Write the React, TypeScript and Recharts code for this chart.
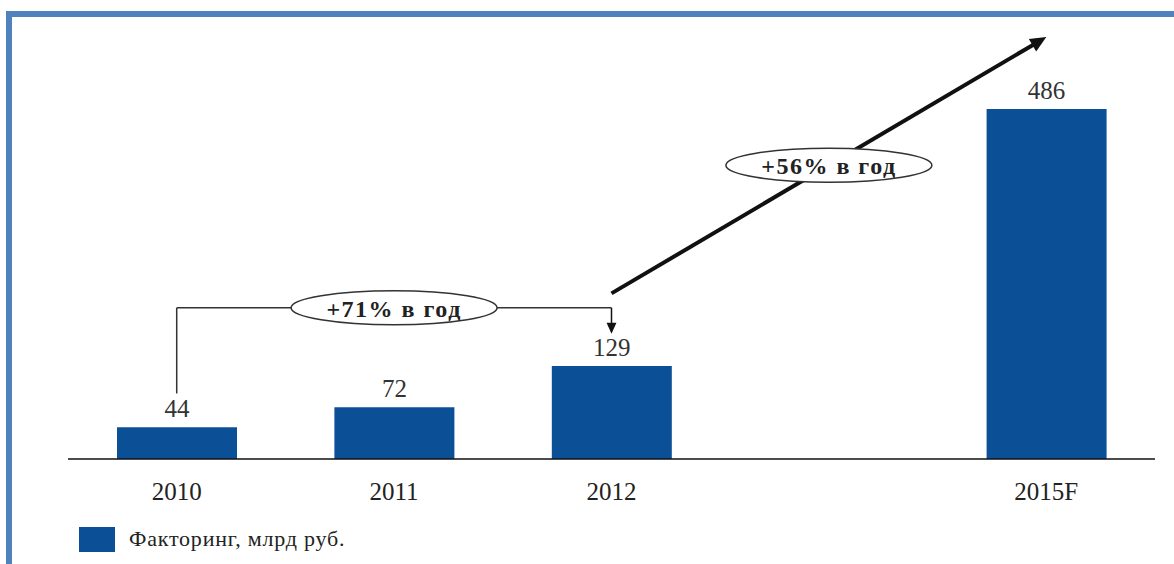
import React from "react";
import { Bar, BarChart, LabelList, Legend, ReferenceDot, ReferenceLine, XAxis, YAxis } from "recharts";

const years = ["2010", "2011", "2012", " ", "2015F"];
const factoring = [44, 72, 129, null, 486];
const seriesName = "Факторинг, млрд руб.";
const growthLabels = ["+71% в год", "+56% в год"];

const data = years.map((year, i) => ({ year, value: factoring[i] }));

const SERIF = '"Liberation Serif", "Times New Roman", serif';
const BLUE = "#0b4f97";

function Arrow(props: any) {
  const { x1, y1, x2, y2, stroke, strokeWidth, head } = props;
  const dx = x2 - x1;
  const dy = y2 - y1;
  const len = Math.sqrt(dx * dx + dy * dy) || 1;
  const ux = dx / len;
  const uy = dy / len;
  const bx = x2 - ux * head;
  const by = y2 - uy * head;
  const w = head * 0.45;
  const pts = `${x2},${y2} ${bx - uy * w},${by + ux * w} ${bx + uy * w},${by - ux * w}`;
  return (
    <g>
      <line x1={x1} y1={y1} x2={bx + ux} y2={by + uy} stroke={stroke} strokeWidth={strokeWidth} />
      <polygon points={pts} fill={stroke} />
    </g>
  );
}

function Badge(props: any) {
  const { cx, cy, text } = props;
  return (
    <g>
      <ellipse cx={cx} cy={cy} rx={103} ry={17} fill="#fff" stroke="#333" strokeWidth={1.5} />
      <text
        x={cx}
        y={cy + 1}
        textAnchor="middle"
        dominantBaseline="central"
        fontFamily={SERIF}
        fontWeight="bold"
        fontSize={24}
        letterSpacing={1.5}
        fill="#222"
      >
        {text}
      </text>
    </g>
  );
}

function LegendBox() {
  return (
    <div style={{ display: "flex", alignItems: "center", fontFamily: SERIF, fontSize: 22, letterSpacing: 0.8, color: "#222", height: 30 }}>
      <span style={{ display: "inline-block", width: 36, height: 25, background: BLUE, marginRight: 14 }} />
      {seriesName}
    </div>
  );
}

export default function App() {
  return (
    <div style={{ position: "absolute", left: 0, top: 0, width: 1174, height: 564, background: "#fff", overflow: "hidden" }}>
      <div style={{ position: "absolute", left: 6, top: 11, right: 0, bottom: 0, borderTop: "6px solid #4f81bd", borderLeft: "6px solid #4f81bd" }} />
      <div style={{ position: "absolute", left: 0, top: 0 }}>
        <BarChart width={1174} height={564} data={data} margin={{ top: 27, right: 19, bottom: 10, left: 68 }}>
          <YAxis hide domain={[0, 600]} />
          <XAxis
            dataKey="year"
            height={65}
            tickLine={false}
            tickSize={0}
            tickMargin={23}
            axisLine={{ stroke: "#111", strokeWidth: 1.5 }}
            tick={{ fontSize: 25, fill: "#222", fontFamily: SERIF }}
          />
          <Bar dataKey="value" name={seriesName} fill={BLUE} barSize={120} isAnimationActive={false}>
            <LabelList dataKey="value" position="top" offset={10} fill="#333" fontSize={25} fontFamily={SERIF} />
          </Bar>
          <ReferenceLine segment={[{ x: "2010", y: 91 }, { x: "2010", y: 210 }]} stroke="#333" strokeWidth={1.5} />
          <ReferenceLine segment={[{ x: "2010", y: 210 }, { x: "2012", y: 210 }]} stroke="#333" strokeWidth={1.5} />
          <ReferenceLine
            segment={[{ x: "2012", y: 210 }, { x: "2012", y: 174 }]}
            shape={(p: any) => <Arrow {...p} stroke="#111" strokeWidth={1.5} head={11} />}
          />
          <ReferenceLine
            segment={[{ x: "2012", y: 230 }, { x: "2015F", y: 586 }]}
            shape={(p: any) => <Arrow {...p} stroke="#111" strokeWidth={4} head={16} />}
          />
          <ReferenceDot x="2011" y={210} r={0} shape={(p: any) => <Badge {...p} text={growthLabels[0]} />} />
          <ReferenceDot x=" " y={408} r={0} shape={(p: any) => <Badge {...p} text={growthLabels[1]} />} />
          <Legend verticalAlign="bottom" align="left" content={() => <LegendBox />} wrapperStyle={{ left: 79, width: "auto" }} />
        </BarChart>
      </div>
    </div>
  );
}
